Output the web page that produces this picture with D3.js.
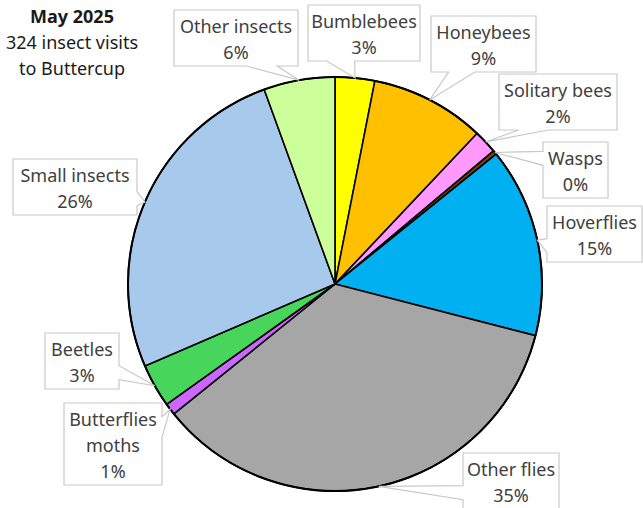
<!DOCTYPE html>
<html>
<head>
<meta charset="utf-8">
<script src="https://cdn.jsdelivr.net/npm/d3@7"></script>
<style>
  body { margin: 0; background: #fff; }
  text { font-family: "Noto Sans", sans-serif; }
</style>
</head>
<body>
<div id="my_dataviz"></div>
<script>
var width = 643, height = 508;

// visit counts, clockwise from 12 o'clock
var categories = ["Bumblebees", "Honeybees", "Solitary bees", "Wasps", "Hoverflies",
  "Other flies", "Butterflies moths", "Beetles", "Small insects", "Other insects"];
var visits = [10, 29, 6, 1, 48, 114, 3, 11, 84, 18];
var colors = ["#ffff00", "#ffc000", "#ff99ff", "#843c0c", "#00b0f0",
  "#a6a6a6", "#cc66ff", "#48d55c", "#a6c9ec", "#ccff99"];
var titleLines = ["May 2025", "insect visits", "to Buttercup"];

// callout boxes placed by hand, like the Excel chart: [left, top, width, wrap]
var callouts = [
  [308, 5, 112, false], [431, 16, 105, false], [499, 74, 118, false],
  [543, 142, 65, false], [547, 206, 95, false], [463, 453, 96, false],
  [64, 403, 98, true], [45, 333, 74, false], [13, 159, 124, false],
  [174, 10, 124, false]
];

var total = d3.sum(visits);
var cx = 335, cy = 284, radius = 207;

var svg = d3.select("#my_dataviz")
  .append("svg")
    .attr("width", width)
    .attr("height", height);

var pie = d3.pie().sort(null).value(function(d) { return d; });
var arcs = pie(visits);
var arc = d3.arc().innerRadius(0).outerRadius(radius);

var g = svg.append("g")
  .attr("transform", "translate(" + cx + "," + cy + ")");

g.selectAll("path.slice")
  .data(arcs)
  .enter().append("path")
    .attr("class", "slice")
    .attr("d", arc)
    .attr("fill", function(d, i) { return colors[i]; })
    .attr("stroke", "#000")
    .attr("stroke-width", 1.6)
    .attr("stroke-linejoin", "round");

g.append("circle")
  .attr("r", radius)
  .attr("fill", "none")
  .attr("stroke", "#000")
  .attr("stroke-width", 2);

// wedge rectangle callout, tail base at 2/12-5/12 or 7/12-10/12 of the side
function calloutPath(x, y, w, h, tx, ty) {
  var dx = tx - (x + w / 2), dy = ty - (y + h / 2);
  var p = d3.path();
  if (Math.abs(dx * h / w) > Math.abs(dy)) {
    var ya = y + h * (dy > 0 ? 7 : 2) / 12, yb = y + h * (dy > 0 ? 10 : 5) / 12;
    p.moveTo(x, y); p.lineTo(x + w, y);
    if (dx > 0) { p.lineTo(x + w, ya); p.lineTo(tx, ty); p.lineTo(x + w, yb); }
    p.lineTo(x + w, y + h); p.lineTo(x, y + h);
    if (dx < 0) { p.lineTo(x, yb); p.lineTo(tx, ty); p.lineTo(x, ya); }
  } else {
    var xa = x + w * (dx > 0 ? 7 : 2) / 12, xb = x + w * (dx > 0 ? 10 : 5) / 12;
    p.moveTo(x, y);
    if (dy < 0) { p.lineTo(xa, y); p.lineTo(tx, ty); p.lineTo(xb, y); }
    p.lineTo(x + w, y); p.lineTo(x + w, y + h);
    if (dy > 0) { p.lineTo(xb, y + h); p.lineTo(tx, ty); p.lineTo(xa, y + h); }
    p.lineTo(x, y + h);
  }
  p.closePath();
  return p.toString();
}

arcs.forEach(function(d, i) {
  var c = callouts[i];
  var lines = c[3] ? categories[i].split(" ") : [categories[i]];
  lines.push(Math.round(visits[i] / total * 100) + "%");
  var h = 26 * lines.length + 4;
  var mid = (d.startAngle + d.endAngle) / 2;
  var tx = cx + radius * Math.sin(mid), ty = cy - radius * Math.cos(mid);

  svg.append("path")
    .attr("d", calloutPath(c[0], c[1], c[2], h, tx, ty))
    .attr("fill", "#fff")
    .attr("stroke", "#c8c8c8")
    .attr("stroke-width", 1.2);

  svg.append("g").selectAll("text")
    .data(lines)
    .enter().append("text")
      .attr("x", c[0] + c[2] / 2)
      .attr("y", function(t, j) { return c[1] + 23 + 26 * j; })
      .attr("text-anchor", "middle")
      .attr("font-size", 18)
      .attr("fill", "#404040")
      .text(function(t) { return t; });
});

// title
svg.selectAll("text.title")
  .data([titleLines[0], total + " " + titleLines[1], titleLines[2]])
  .enter().append("text")
    .attr("class", "title")
    .attr("x", 72)
    .attr("y", function(t, j) { return 23 + 26 * j; })
    .attr("text-anchor", "middle")
    .attr("font-size", 18)
    .attr("font-weight", function(t, j) { return j == 0 ? "bold" : "normal"; })
    .attr("fill", "#1a1a1a")
    .text(function(t) { return t; });
</script>
</body>
</html>
